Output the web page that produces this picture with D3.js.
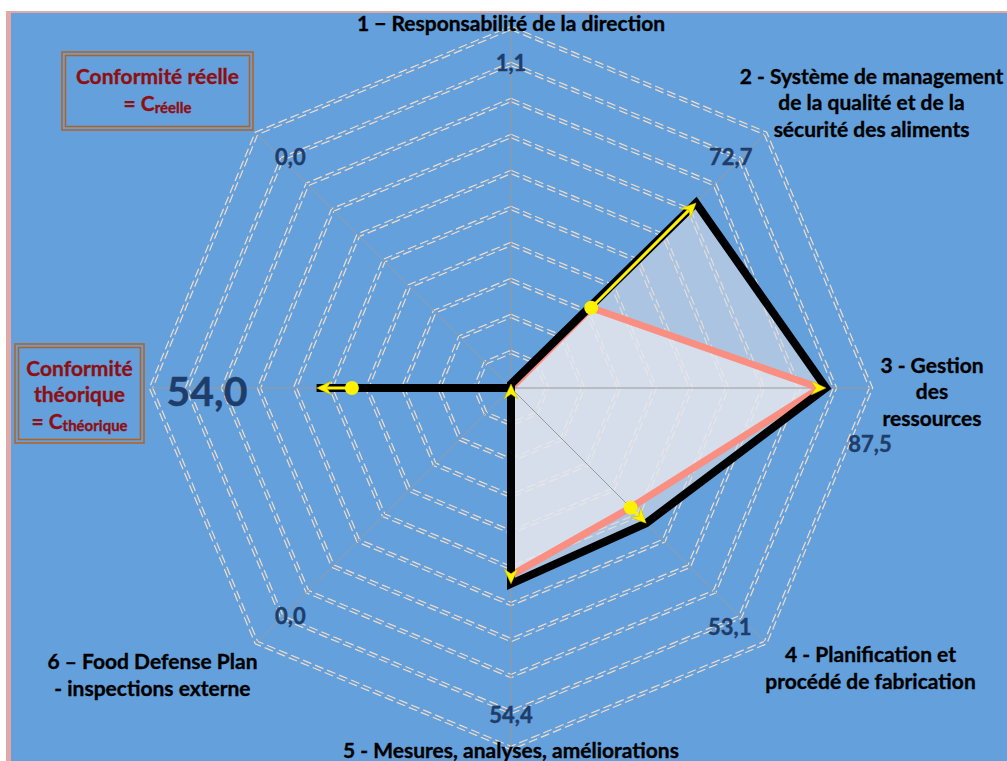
<!DOCTYPE html>
<html>
<head>
<meta charset="utf-8">
<script src="https://cdn.jsdelivr.net/npm/d3@7"></script>
<style>
  html, body { margin: 0; padding: 0; background: #ffffff; }
  svg { display: block; }
  text { font-family: Lato, "Open Sans", sans-serif; font-weight: bold; }
</style>
</head>
<body>
<svg id="chart" width="1007" height="761"></svg>
<script>
// Axis titles, one entry per spoke, split into display lines
const categoryLines = [
  ["1 \u2212 Responsabilité de la direction"],
  ["2 - Système de management", "de la qualité et de la", "sécurité des aliments"],
  ["3 - Gestion", "des", "ressources"],
  ["4 - Planification et", "procédé de fabrication"],
  ["5 - Mesures, analyses, améliorations"],
  ["6 \u2013 Food Defense Plan", "- inspections externe"],
  [],
  []
];
// Theoretical conformity (%), per axis
const theoretical = [1.1, 72.7, 87.5, 53.1, 54.4, 0.0, 54.0, 0.0];
// Actual conformity (%), per axis
const actual = [0.0, 31.5, 85.8, 47.0, 52.0, 0.0, 44.2, 0.0];
// Grid rings (percent)
const ringTicks = [10, 20, 30, 40, 50, 60, 70, 80, 90, 100];

// ---- layout ----
const cx = 511, cy = 388, R = 360;
const valueLabelOffsets = [[0, -4], [-8, -4], [37, 55], [-9, 11], [0, 4], [7, 0], [18, 2], [7, -4]];
const categoryOffsets = [[0, -6], [106, -32], [61, 2], [105, 24], [0, 1], [-104, 31], [0, 0], [0, 0]];
const lineHeight = 26.5;

const svg = d3.select("#chart");
const n = theoretical.length;
const r = d3.scaleLinear().domain([0, 100]).range([0, R]);
const angle = d3.scaleLinear().domain([0, n]).range([0, 2 * Math.PI]);
const pt = (i, v) => [cx + r(v) * Math.sin(angle(i)), cy - r(v) * Math.cos(angle(i))];
const fmt = v => d3.format(".1f")(v).replace(".", ",");

// frame
svg.append("rect").attr("x", 6).attr("y", 11).attr("width", 1001).attr("height", 750).attr("fill", "#e1a9a6");
svg.append("rect").attr("x", 11).attr("y", 13).attr("width", 996).attr("height", 748).attr("fill", "#64a0dc");

// grid rings: double dashed lines
const gridG = svg.append("g");
const ringPath = rad => d3.range(n).map(i => [cx + rad * Math.sin(angle(i)), cy - rad * Math.cos(angle(i))]);
const closed = d3.line().curve(d3.curveLinearClosed);
ringTicks.forEach(t => {
  [-1.7, 1.7].forEach(off => {
    gridG.append("path")
      .attr("d", closed(ringPath(r(t) + off)))
      .attr("fill", "none")
      .attr("stroke", "#f3dcc6")
      .attr("stroke-width", 1.2)
      .attr("stroke-dasharray", "9,4");
  });
});

// series fills
const polyPts = vals => vals.map((v, i) => pt(i, v));
svg.append("path").attr("d", closed(polyPts(theoretical)))
  .attr("fill", "rgb(216,220,228)").attr("fill-opacity", 0.6);
svg.append("path").attr("d", closed(polyPts(actual)))
  .attr("fill", "rgb(232,234,240)").attr("fill-opacity", 0.7);

// spokes
svg.append("g").selectAll("line").data(d3.range(n)).join("line")
  .attr("x1", cx).attr("y1", cy)
  .attr("x2", i => pt(i, 100)[0]).attr("y2", i => pt(i, 100)[1])
  .attr("stroke", "#9a9a9a").attr("stroke-width", 1);

// series outlines
svg.append("path").attr("d", closed(polyPts(actual)))
  .attr("fill", "none").attr("stroke", "#fa8e80").attr("stroke-width", 7).attr("stroke-linejoin", "miter");
svg.append("path").attr("d", closed(polyPts(theoretical)))
  .attr("fill", "none").attr("stroke", "#000000").attr("stroke-width", 8).attr("stroke-linejoin", "miter");

// gap arrows from actual to theoretical
const arrowG = svg.append("g");
d3.range(n).forEach(i => {
  const gap = theoretical[i] - actual[i];
  if (gap <= 0) return;
  const [x0, y0] = pt(i, actual[i]);
  const [x1, y1] = pt(i, theoretical[i]);
  const deg = angle(i) * 180 / Math.PI;
  const headLen = 14;
  const lineEnd = pt(i, Math.max(actual[i], theoretical[i] - r.invert(headLen * 0.6)));
  if (gap > 4) {
    arrowG.append("line").attr("x1", x0).attr("y1", y0).attr("x2", lineEnd[0]).attr("y2", lineEnd[1])
      .attr("stroke", "#fff200").attr("stroke-width", 3);
  }
  arrowG.append("path")
    .attr("d", "M0,0 L-7,15 L0,10 L7,15 Z")
    .attr("transform", `translate(${x1},${y1}) rotate(${deg})`)
    .attr("fill", "#fff200").attr("stroke", "#c8b800").attr("stroke-width", 0.5);
  if (gap > 4) {
    arrowG.append("circle").attr("cx", x0).attr("cy", y0).attr("r", 7).attr("fill", "#fff200");
  }
});

// value labels (theoretical)
svg.append("g").selectAll("text").data(theoretical).join("text")
  .attr("x", (d, i) => pt(i, r.invert(322))[0] + valueLabelOffsets[i][0])
  .attr("y", (d, i) => pt(i, r.invert(322))[1] + valueLabelOffsets[i][1])
  .attr("text-anchor", "middle").attr("dominant-baseline", "central")
  .attr("fill", "#1f3d6a").attr("stroke", "#1f3d6a").attr("stroke-width", 0.4)
  .attr("font-size", (d, i) => i === 6 ? 41 : 22)
  .text(d => fmt(d));

// category labels
const catG = svg.append("g");
categoryLines.forEach((lines, i) => {
  if (!lines.length) return;
  const [ox, oy] = pt(i, 100);
  const bx = ox + categoryOffsets[i][0];
  const by = oy + categoryOffsets[i][1] - (lines.length - 1) * lineHeight / 2;
  const t = catG.append("text").attr("text-anchor", "middle").attr("fill", "#000")
    .attr("stroke", "#000").attr("stroke-width", 0.35)
    .attr("font-size", 21).attr("dominant-baseline", "central");
  lines.forEach((l, k) => t.append("tspan").attr("x", bx).attr("y", by + k * lineHeight).text(l));
});

// legend boxes
function legendBox(x, y, w, h, lines, sub) {
  const g = svg.append("g");
  g.append("rect").attr("x", x).attr("y", y).attr("width", w).attr("height", h)
    .attr("fill", "none").attr("stroke", "#b8601a").attr("stroke-width", 1.5);
  g.append("rect").attr("x", x + 3.5).attr("y", y + 3.5).attr("width", w - 7).attr("height", h - 7)
    .attr("fill", "none").attr("stroke", "#b8601a").attr("stroke-width", 1.5);
  const mx = x + w / 2;
  lines.forEach((l, k) => {
    g.append("text").attr("x", mx).attr("y", y + 23 + k * 26.5)
      .attr("text-anchor", "middle").attr("dominant-baseline", "central")
      .attr("fill", "#8e0f12").attr("stroke", "#8e0f12").attr("stroke-width", 0.35)
      .attr("font-size", 21).text(l);
  });
  const t = g.append("text").attr("x", mx).attr("y", y + 23 + lines.length * 26.5)
    .attr("text-anchor", "middle").attr("dominant-baseline", "central")
    .attr("fill", "#8e0f12").attr("stroke", "#8e0f12").attr("stroke-width", 0.35);
  t.append("tspan").attr("font-size", 21).text("= C");
  t.append("tspan").attr("font-size", 15).attr("dy", 5).text(sub);
}
legendBox(62, 52, 191, 78, ["Conformité réelle"], "réelle");
legendBox(15, 344, 129, 99, ["Conformité", "théorique"], "théorique");
</script>
</body>
</html>
